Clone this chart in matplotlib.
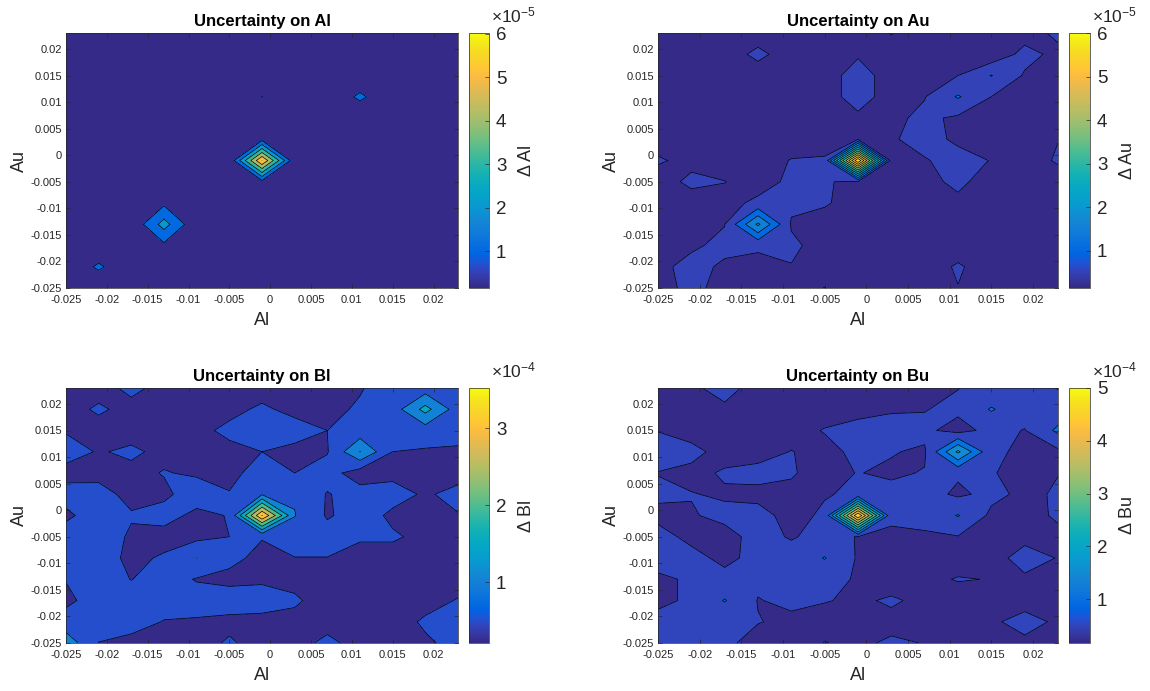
import numpy as np
import matplotlib
matplotlib.use('Agg')
import matplotlib.pyplot as plt
from matplotlib.colors import LinearSegmentedColormap, Normalize
from matplotlib.cm import ScalarMappable
from matplotlib.ticker import FuncFormatter

plt.rcParams['font.family'] = ['Liberation Sans', 'DejaVu Sans']
plt.rcParams['mathtext.fontset'] = 'custom'
plt.rcParams['mathtext.rm'] = 'Liberation Sans'
plt.rcParams['mathtext.it'] = 'Liberation Sans:italic'

# parula, sampled from the 64-entry table
parula_idx = [0, 2, 4, 6, 8, 10, 13, 16, 19, 22, 25, 28, 31, 34, 37, 40,
              43, 46, 49, 52, 54, 56, 58, 60, 62, 63]
parula_rgb = [(0.2081, 0.1663, 0.5292), (0.2123, 0.2138, 0.6270),
              (0.1959, 0.2645, 0.7279), (0.1253, 0.3242, 0.8303),
              (0.0117, 0.3875, 0.8820), (0.0165, 0.4266, 0.8786),
              (0.0629, 0.4737, 0.8554), (0.0793, 0.5200, 0.8312),
              (0.0488, 0.5772, 0.8228), (0.0239, 0.6287, 0.8038),
              (0.0267, 0.6642, 0.7607), (0.0843, 0.6928, 0.7062),
              (0.1801, 0.7177, 0.6424), (0.3022, 0.7376, 0.5712),
              (0.4420, 0.7481, 0.5033), (0.5709, 0.7485, 0.4494),
              (0.6834, 0.7435, 0.4044), (0.7858, 0.7356, 0.3633),
              (0.8824, 0.7274, 0.3217), (0.9739, 0.7314, 0.2666),
              (0.9990, 0.7653, 0.2164), (0.9880, 0.8066, 0.1794),
              (0.9697, 0.8481, 0.1475), (0.9589, 0.8949, 0.1132),
              (0.9661, 0.9514, 0.0755), (0.9763, 0.9831, 0.0538)]
parula = LinearSegmentedColormap.from_list(
    'parula', [(i / 63.0, c) for i, c in zip(parula_idx, parula_rgb)])

# scan grid
al_nodes = [-0.025, -0.021, -0.017, -0.013, -0.009, -0.005, -0.001,
            0.003, 0.007, 0.011, 0.015, 0.019, 0.023]
au_nodes = [-0.025, -0.021, -0.017, -0.013, -0.009, -0.005, -0.001,
            0.003, 0.007, 0.011, 0.015, 0.019, 0.023]
axis_ticks = [-0.025, -0.02, -0.015, -0.01, -0.005, 0, 0.005, 0.01, 0.015, 0.02]

# uncertainties, rows from Au = 0.023 (top) down to Au = -0.025
# dAl in units of 1e-5
dAl = [
    [.3, .3, .3, .3, .3, .3, .3, .3, .3, .3, .3, .3, .3],
    [.3, .3, .3, .3, .3, .3, .3, .3, .3, .3, .3, .3, .3],
    [.3, .3, .3, .3, .3, .3, .3, .3, .3, .3, .3, .3, .3],
    [.3, .3, .3, .3, .3, .3, 1.01, .3, .3, 1.17, .3, .3, .3],
    [.3, .3, .3, .3, .3, .3, .3, .3, .3, .3, .3, .3, .3],
    [.3, .3, .3, .3, .3, .3, .68, .3, .3, .3, .3, .3, .3],
    [.3, .3, .3, .3, .3, .15, 6.02, .2, .3, .3, .3, .3, .3],
    [.3, .3, .3, .3, .3, .3, .68, .3, .3, .3, .3, .3, .3],
    [.3, .3, .3, .79, .3, .3, .3, .3, .3, .3, .3, .3, .3],
    [.3, .3, .18, 2.4, .18, .3, .3, .3, .3, .3, .3, .3, .3],
    [.3, .3, .3, .79, .3, .3, .3, .3, .3, .3, .3, .3, .3],
    [.3, 1.14, .3, .3, .3, .3, .3, .3, .3, .3, .3, .3, .3],
    [.3, .3, .3, .3, .3, .3, .3, .3, .3, .3, .3, .3, .3],
]

# dAu in units of 1e-5
dAu = [
    [.3, .3, .3, .3, .3, .3, .3, .52, .3, .3, .3, .3, .6],
    [.3, .3, .3, .6, .3, .3, .45, .3, .3, .3, .15, .65, .38],
    [.3, .3, .3, .3, .3, .3, .7, .3, .3, .5, 1.02, .45, .3],
    [.3, .3, .3, .3, .3, .3, .7, .3, .48, 1.05, .5, .3, .3],
    [.3, .3, .3, .3, .3, .3, .41, .4, .6, .42, .3, .3, .3],
    [.3, .3, .3, .3, .3, .3, .49, .47, .6, .45, .3, .3, .49],
    [.55, .38, .3, .3, .52, .55, 6.0, .3, .48, .6, .49, .3, .55],
    [.3, .6, .51, .3, .6, .52, .45, .3, .37, .6, .3, .3, .3],
    [.3, .3, .35, .6, .6, .55, .3, .3, .3, .4, .3, .3, .3],
    [.3, .3, .49, 2.1, .45, .3, .3, .3, .3, .3, .3, .3, .3],
    [.3, .45, .58, .6, .6, .3, .3, .3, .3, .3, .3, .3, .3],
    [.42, .6, .45, .3, .48, .3, .3, .3, .3, .55, .3, .3, .3],
    [.36, .6, .37, .3, .3, .51, .3, .3, .3, .49, .3, .3, .3],
]

# dBl in units of 1e-4
dBl = [
    [.35, .35, .6, .37, .35, .35, .35, .35, .4, .47, .7, .75, .7],
    [.35, .56, .37, .35, .35, .4, .56, .4, .4, .55, .75, 1.67, .75],
    [.47, .35, .35, .35, .4, .585, .75, .65, .5, .7, .7, .75, .6],
    [.66, .47, .57, .4, .35, .4, .5, .4, .47, 1.51, .5, .45, .46],
    [.37, .4, .4, .52, .45, .4, .65, .5, .7, .25, .4, .35, .35],
    [.65, .62, .4, .42, .7, .52, .95, .95, .47, .7, .65, .45, .62],
    [.42, .7, .53, .65, .4, .52, 3.52, 1.02, .45, .7, .42, .35, .48],
    [.7, .7, .45, .35, .38, .5, .52, .7, .7, .55, .55, .4, .38],
    [.7, .7, .4, .55, 1.003, .6, .4, .49, .49, .35, .35, .35, .35],
    [.52, .7, .49, .7, .47, .4, .45, .4, .35, .35, .35, .21, .35],
    [.4, .7, .7, .7, .7, .7, .65, .55, .35, .35, .35, .38, .52],
    [.7, .7, .7, .48, .45, .4, .4, .4, .35, .35, .35, .55, .7],
    [1.3, .49, .35, .35, .35, .55, .35, .35, .6, .35, .35, .45, .6],
]

# dBu in units of 1e-4
dBu = [
    [.35, .45, .6, .39, .35, .35, .35, .35, .35, .49, .65, .7, 1.03],
    [.35, .35, .45, .35, .35, .35, .41, .475, .483, .6, 1.04, .7, .7],
    [.49, .39, .35, .35, .38, .52, .6, .6, .6, .32, .65, .48, 1.1],
    [.65, .58, .4, .38, .51, .4, .58, .52, .45, 2.1, .6, .4, .4],
    [.49, .43, .53, .6, .52, .41, .51, .45, .52, .56, .52, .4, .49],
    [.56, .51, .47, .42, .45, .48, .55, .6, .68, .42, .62, .4, .55],
    [.42, .48, .56, .6, .4, .55, 5.0, .55, .62, 1.03, .4, .35, .56],
    [.61, .42, .42, .58, .48, .58, .49, .45, .45, .48, .35, .43, .4],
    [.73, .6, .42, .6, .6, 1.03, .45, .35, .35, .35, .4, .6, .49],
    [.4, .57, .6, .6, .6, .6, .47, .32, .42, .52, .49, .46, .35],
    [.4, .57, 1.03, .48, .6, .52, .44, .55, .41, .35, .35, .39, .35],
    [.64, .65, .65, .52, .4, .35, .35, .4, .17, .35, .455, .6, .455],
    [.65, .65, .6, .33, .35, .51, .44, .55, .49, .35, .35, .44, .35],
]

panels = [
    ('Al', dAl, [1, 2, 3, 4, 5, 6], [1, 2, 3, 4, 5, 6], -5),
    ('Au', dAu, [0.5, 1, 1.5, 2, 2.5, 3, 3.5, 4, 4.5, 5, 5.5], [1, 2, 3, 4, 5, 6], -5),
    ('Bl', dBl, [0.5, 1, 1.5, 2, 2.5, 3, 3.5], [1, 2, 3], -4),
    ('Bu', dBu, [0.5, 1, 1.5, 2, 2.5, 3, 3.5, 4, 4.5], [1, 2, 3, 4, 5], -4),
]

W, H = 1150, 691


def box(l, t, r, b):
    return [l / W, 1 - b / H, (r - l) / W, (b - t) / H]


frames = [((66, 33, 458, 288), (469, 33, 489, 288)),
          ((658, 33, 1058, 288), (1069, 33, 1090, 288)),
          ((66, 388, 458, 643), (469, 388, 489, 643)),
          ((658, 388, 1058, 643), (1069, 388, 1090, 643))]

fmt = FuncFormatter(lambda v, p: '%g' % (round(v, 6) + 0.0))
dark = '#262626'

fig = plt.figure(figsize=(W / 100, H / 100), dpi=100)

for (name, z, levels, cticks, expo), (apos, cpos) in zip(panels, frames):
    ax = fig.add_axes(box(*apos))
    cax = fig.add_axes(box(*cpos))
    zz = np.flipud(np.array(z, dtype=float))
    zmin, zmax = zz.min(), zz.max()
    norm = Normalize(zmin, zmax)
    bounds = [zmin - 0.01] + levels + [zmax + 0.01]
    fills = [parula(0.0)] + [parula(norm(lv)) for lv in levels]
    ax.contourf(al_nodes, au_nodes, zz, levels=bounds, colors=fills)
    ax.contour(al_nodes, au_nodes, zz, levels=levels, colors='k', linewidths=0.5)
    ax.set_xlim(-0.025, 0.023)
    ax.set_ylim(-0.025, 0.023)
    ax.set_xticks(axis_ticks)
    ax.set_yticks(axis_ticks)
    ax.xaxis.set_major_formatter(fmt)
    ax.yaxis.set_major_formatter(fmt)
    ax.tick_params(direction='in', length=3, width=0.5, labelsize=8,
                   colors=dark, top=True, right=True, pad=3)
    ax.tick_params(axis='x', pad=5)
    for sp in ax.spines.values():
        sp.set_linewidth(0.5)
        sp.set_color(dark)
    ax.set_xlabel('Al', fontsize=13, color=dark, labelpad=5)
    ax.set_ylabel('Au', fontsize=13, color=dark, labelpad=2)
    ax.set_title('Uncertainty on ' + name, fontsize=12, fontweight='bold', pad=5)

    cb = fig.colorbar(ScalarMappable(norm=norm, cmap=parula), cax=cax)
    cb.set_ticks(cticks)
    cb.ax.tick_params(direction='in', length=3, width=0.5, labelsize=13.5,
                      colors=dark, pad=5)
    cb.outline.set_linewidth(0.5)
    cb.outline.set_edgecolor(dark)
    cb.set_label('\u0394 ' + name, fontsize=13, color=dark, labelpad=8)
    cax.text(1.1, 1.04, r'$\times$10$^{%d}$' % expo, transform=cax.transAxes,
             ha='left', va='baseline', fontsize=12.5, color=dark)

fig.savefig('out.png', dpi=100)
